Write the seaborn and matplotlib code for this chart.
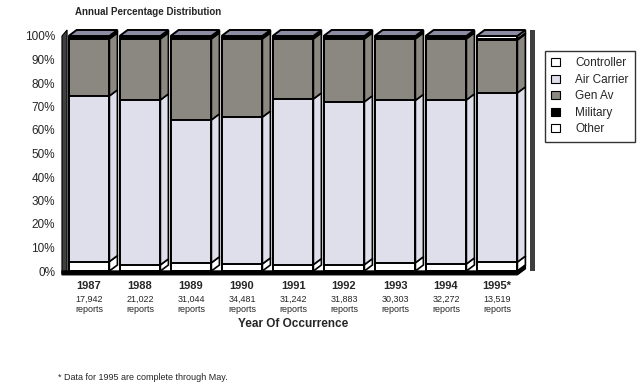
import numpy as np
import pandas as pd
import seaborn as sns
import matplotlib.pyplot as plt
from matplotlib.patches import Polygon, Patch

# data (percent of reports per year)
years = ['1987', '1988', '1989', '1990', '1991', '1992', '1993', '1994', '1995*']
reports = ['17,942', '21,022', '31,044', '34,481', '31,242', '31,883', '30,303', '32,272', '13,519']
series = ['Controller', 'Air Carrier', 'Gen Av', 'Military', 'Other']
controller = [4.0, 2.6, 3.5, 3.0, 2.7, 2.7, 3.5, 3.0, 3.8]
air_carrier = [70.5, 70.2, 60.8, 62.5, 70.5, 69.3, 69.1, 69.8, 72.0]
gen_av = [24.3, 26.0, 34.5, 33.3, 25.6, 26.8, 26.2, 26.0, 22.5]
military = [0.7, 0.7, 0.7, 0.7, 0.7, 0.7, 0.7, 0.7, 0.5]
other = [0.5, 0.5, 0.5, 0.5, 0.5, 0.5, 0.5, 0.5, 1.2]

colors = {'Controller': '#ffffff', 'Air Carrier': '#dfdfec',
          'Gen Av': '#8b8882', 'Military': '#000000', 'Other': '#ffffff'}

df = pd.DataFrame({'year': years, 'Controller': controller, 'Air Carrier': air_carrier,
                   'Gen Av': gen_av, 'Military': military, 'Other': other})
cum = df[series].cumsum(axis=1)

sns.set_style('white')
plt.rcParams['font.family'] = ['Liberation Sans', 'DejaVu Sans']

W, H = 643, 388
fig = plt.figure(figsize=(W / 100, H / 100), dpi=100)
ax = fig.add_axes([63.5 / W, (H - 271) / H, 459 / W, 235 / H])

# stacked bars: draw the tallest cumulative first
for s in reversed(series):
    sns.barplot(x=df['year'], y=cum[s], order=years, color=colors[s], saturation=1,
                width=0.8, edgecolor='black', linewidth=1.4, errorbar=None, ax=ax)

ax.set_xlim(-0.5, 8.5)
ax.set_ylim(0, 100)

# depth of the 3D effect in data units (8 px right, 6 px up)
ddx = 8 / 51
ddy = 6 * 100 / 235

for i in range(len(years)):
    xl, xr = i - 0.4, i + 0.4
    bottom = 0
    for s in series:
        top = cum[s].iloc[i]
        side = Polygon([(xr, bottom), (xr + ddx, bottom + ddy), (xr + ddx, top + ddy), (xr, top)],
                       closed=True, facecolor=colors[s], edgecolor='black', linewidth=1.2,
                       clip_on=False, zorder=3)
        ax.add_patch(side)
        bottom = top
    roof = Polygon([(xl, 100), (xl + ddx, 100 + ddy), (xr + ddx, 100 + ddy), (xr, 100)],
                   closed=True, facecolor='#8c8ca2', edgecolor='black', linewidth=1.4,
                   clip_on=False, zorder=3)
    ax.add_patch(roof)

# walls and floor
ax.add_patch(Polygon([(-0.53, -1), (-0.53, 100), (-0.43, 100 + ddy), (-0.43, -1)],
                     closed=True, facecolor='#3f3f3f', edgecolor='black', linewidth=0.8,
                     clip_on=False, zorder=2))
ax.add_patch(Polygon([(8.65, 0), (8.65, 100 + ddy), (8.75, 100 + ddy), (8.75, 0)],
                     closed=True, facecolor='#3f3f3f', edgecolor='none',
                     clip_on=False, zorder=2))
ax.add_patch(Polygon([(-0.53, -1.6), (8.4, -1.6), (8.4 + ddx, ddy - 1.6), (8.4 + ddx, ddy),
                      (8.4, 0), (-0.53, 0)],
                     closed=True, facecolor='black', edgecolor='black', linewidth=1,
                     clip_on=False, zorder=4))

for sp in ax.spines.values():
    sp.set_visible(False)
ax.set_yticks(np.arange(0, 101, 10))
ax.set_yticklabels([f'{v}%' for v in range(0, 101, 10)], fontsize=8.5)
ax.tick_params(axis='y', length=0, pad=6)
ax.set_xticks([])
ax.set_xlabel('')
ax.set_ylabel('')

tr = ax.get_xaxis_transform()
for i, (yr, n) in enumerate(zip(years, reports)):
    ax.text(i, -0.064, yr, transform=tr, ha='center', va='center', fontsize=8, fontweight='bold')
    ax.text(i, -0.119, n, transform=tr, ha='center', va='center', fontsize=6.5)
    ax.text(i, -0.162, 'reports', transform=tr, ha='center', va='center', fontsize=6.5)
ax.text(4, -0.226, 'Year Of Occurrence', transform=tr, ha='center', va='center',
        fontsize=8.5, fontweight='bold')

fig.text(75 / W, 1 - 12 / H, 'Annual Percentage Distribution', ha='left', va='center',
         fontsize=7, fontweight='bold')
fig.text(58 / W, 1 - 378 / H, '* Data for 1995 are complete through May.', ha='left',
         va='center', fontsize=6.5)

handles = [Patch(facecolor=colors[s], edgecolor='black', linewidth=0.8) for s in series]
leg = fig.legend(handles, series, loc='upper left', bbox_to_anchor=(545 / W, 1 - 51 / H),
                 fontsize=8.5, frameon=True, fancybox=False, handlelength=0.7, handleheight=0.7,
                 handletextpad=1.3, labelspacing=0.38, borderpad=0.55, borderaxespad=0)
leg.get_frame().set_edgecolor('black')
leg.get_frame().set_linewidth(1)

fig.savefig('out.png', dpi=100)
